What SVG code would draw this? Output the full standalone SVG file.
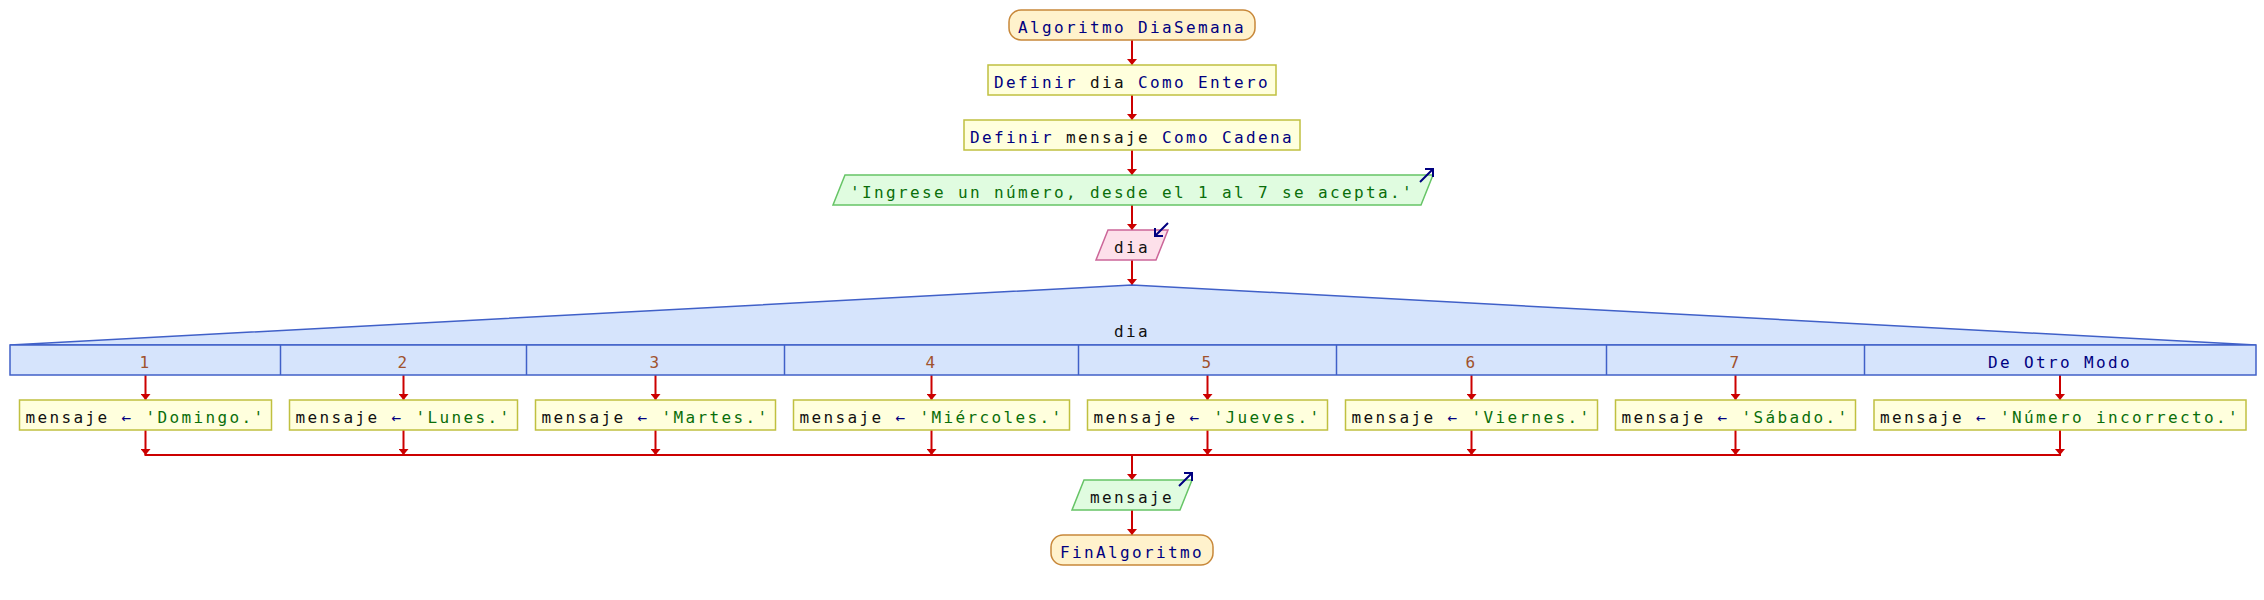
<svg xmlns="http://www.w3.org/2000/svg" width="2264" height="600" viewBox="0 0 2264 600">
<defs>
<marker id="ah" viewBox="0 0 6 10" refX="6" refY="5" markerWidth="6" markerHeight="10" markerUnits="userSpaceOnUse" orient="auto">
<path d="M0,0 L6,5 L0,10 z" fill="#cc0000"/>
</marker>
</defs>
<style>
text{font-family:"DejaVu Sans Mono","Liberation Mono",monospace;font-size:16px;letter-spacing:2.37px;text-anchor:middle;fill:#111}
.kw{fill:#000080}
.str{fill:#0a6e0a}
.num{fill:#a0522d}
.op{fill:#000080}
.term{fill:#fff2cc;stroke:#c8883a;stroke-width:1.5}
.proc{fill:#ffffdd;stroke:#c0c040;stroke-width:1.5}
.out{fill:#e0fce0;stroke:#66c466;stroke-width:1.5}
.in{fill:#fde0ea;stroke:#cc6699;stroke-width:1.5}
.case{fill:#d6e4fc;stroke:#4060c8;stroke-width:1.5}
.icon{fill:none;stroke:#000080;stroke-width:2}
.con line{stroke:#cc0000;stroke-width:2}
.con line.a{marker-end:url(#ah)}
</style>
<rect width="2264" height="600" fill="#ffffff"/>

<g id="connectors" class="con">
<line class="a" x1="1132" y1="40" x2="1132" y2="65"/>
<line class="a" x1="1132" y1="95" x2="1132" y2="120"/>
<line class="a" x1="1132" y1="150" x2="1132" y2="175"/>
<line class="a" x1="1132" y1="205" x2="1132" y2="230"/>
<line class="a" x1="1132" y1="260" x2="1132" y2="285"/>
<line class="a" x1="145.5" y1="375" x2="145.5" y2="400"/>
<line class="a" x1="403.5" y1="375" x2="403.5" y2="400"/>
<line class="a" x1="655.5" y1="375" x2="655.5" y2="400"/>
<line class="a" x1="931.5" y1="375" x2="931.5" y2="400"/>
<line class="a" x1="1207.5" y1="375" x2="1207.5" y2="400"/>
<line class="a" x1="1471.5" y1="375" x2="1471.5" y2="400"/>
<line class="a" x1="1735.5" y1="375" x2="1735.5" y2="400"/>
<line class="a" x1="2060" y1="375" x2="2060" y2="400"/>
<line class="a" x1="145.5" y1="430" x2="145.5" y2="455"/>
<line class="a" x1="403.5" y1="430" x2="403.5" y2="455"/>
<line class="a" x1="655.5" y1="430" x2="655.5" y2="455"/>
<line class="a" x1="931.5" y1="430" x2="931.5" y2="455"/>
<line class="a" x1="1207.5" y1="430" x2="1207.5" y2="455"/>
<line class="a" x1="1471.5" y1="430" x2="1471.5" y2="455"/>
<line class="a" x1="1735.5" y1="430" x2="1735.5" y2="455"/>
<line class="a" x1="2060" y1="430" x2="2060" y2="455"/>
<line x1="144.5" y1="455" x2="2061" y2="455"/>
<line class="a" x1="1132" y1="455" x2="1132" y2="480"/>
<line class="a" x1="1132" y1="510" x2="1132" y2="535"/>
</g>

<g id="start">
<rect class="term" x="1009" y="10" width="246" height="30" rx="12" ry="12"/>
<text x="1132" y="33"><tspan class="kw">Algoritmo DiaSemana</tspan></text>
</g>

<g id="def-dia">
<rect class="proc" x="988" y="65" width="288" height="30"/>
<text x="1132" y="88"><tspan class="kw">Definir</tspan> dia <tspan class="kw">Como Entero</tspan></text>
</g>

<g id="def-mensaje">
<rect class="proc" x="964" y="120" width="336" height="30"/>
<text x="1132" y="143"><tspan class="kw">Definir</tspan> mensaje <tspan class="kw">Como Cadena</tspan></text>
</g>

<g id="out-prompt">
<polygon class="out" points="845,175 1433,175 1421,205 833,205"/>
<text x="1132" y="198" class="str">'Ingrese un número, desde el 1 al 7 se acepta.'</text>
<path class="icon" d="M1420,182 L1433,169 M1425,169 L1433,169 L1433,177"/>
</g>

<g id="in-dia">
<polygon class="in" points="1108,230 1168,230 1156,260 1096,260"/>
<text x="1132" y="253">dia</text>
<path class="icon" d="M1168,223 L1155,236 M1155,228 L1155,236 L1163,236"/>
</g>

<g id="switch">
<polygon class="case" points="1132,285 2256,345 10,345"/>
<text x="1132" y="337">dia</text>
<rect class="case" x="10" y="345" width="2246" height="30"/>
<line x1="280.5" y1="345" x2="280.5" y2="375" stroke="#4060c8" stroke-width="1.5"/>
<line x1="526.5" y1="345" x2="526.5" y2="375" stroke="#4060c8" stroke-width="1.5"/>
<line x1="784.5" y1="345" x2="784.5" y2="375" stroke="#4060c8" stroke-width="1.5"/>
<line x1="1078.5" y1="345" x2="1078.5" y2="375" stroke="#4060c8" stroke-width="1.5"/>
<line x1="1336.5" y1="345" x2="1336.5" y2="375" stroke="#4060c8" stroke-width="1.5"/>
<line x1="1606.5" y1="345" x2="1606.5" y2="375" stroke="#4060c8" stroke-width="1.5"/>
<line x1="1864.5" y1="345" x2="1864.5" y2="375" stroke="#4060c8" stroke-width="1.5"/>
<text class="num" x="145.5" y="368">1</text>
<text class="num" x="403.5" y="368">2</text>
<text class="num" x="655.5" y="368">3</text>
<text class="num" x="931.5" y="368">4</text>
<text class="num" x="1207.5" y="368">5</text>
<text class="num" x="1471.5" y="368">6</text>
<text class="num" x="1735.5" y="368">7</text>
<text class="kw" x="2060" y="368">De Otro Modo</text>
</g>

<g id="case1">
<rect class="proc" x="19.5" y="400" width="252" height="30"/>
<text x="145.5" y="423">mensaje <tspan class="op">←</tspan> <tspan class="str">'Domingo.'</tspan></text>
</g>
<g id="case2">
<rect class="proc" x="289.5" y="400" width="228" height="30"/>
<text x="403.5" y="423">mensaje <tspan class="op">←</tspan> <tspan class="str">'Lunes.'</tspan></text>
</g>
<g id="case3">
<rect class="proc" x="535.5" y="400" width="240" height="30"/>
<text x="655.5" y="423">mensaje <tspan class="op">←</tspan> <tspan class="str">'Martes.'</tspan></text>
</g>
<g id="case4">
<rect class="proc" x="793.5" y="400" width="276" height="30"/>
<text x="931.5" y="423">mensaje <tspan class="op">←</tspan> <tspan class="str">'Miércoles.'</tspan></text>
</g>
<g id="case5">
<rect class="proc" x="1087.5" y="400" width="240" height="30"/>
<text x="1207.5" y="423">mensaje <tspan class="op">←</tspan> <tspan class="str">'Jueves.'</tspan></text>
</g>
<g id="case6">
<rect class="proc" x="1345.5" y="400" width="252" height="30"/>
<text x="1471.5" y="423">mensaje <tspan class="op">←</tspan> <tspan class="str">'Viernes.'</tspan></text>
</g>
<g id="case7">
<rect class="proc" x="1615.5" y="400" width="240" height="30"/>
<text x="1735.5" y="423">mensaje <tspan class="op">←</tspan> <tspan class="str">'Sábado.'</tspan></text>
</g>
<g id="case-default">
<rect class="proc" x="1874" y="400" width="372" height="30"/>
<text x="2060" y="423">mensaje <tspan class="op">←</tspan> <tspan class="str">'Número incorrecto.'</tspan></text>
</g>

<g id="out-mensaje">
<polygon class="out" points="1084,480 1192,480 1180,510 1072,510"/>
<text x="1132" y="503">mensaje</text>
<path class="icon" d="M1179,486 L1192,473 M1184,473 L1192,473 L1192,481"/>
</g>

<g id="end">
<rect class="term" x="1051" y="535" width="162" height="30" rx="12" ry="12"/>
<text x="1132" y="558" class="kw">FinAlgoritmo</text>
</g>
</svg>
